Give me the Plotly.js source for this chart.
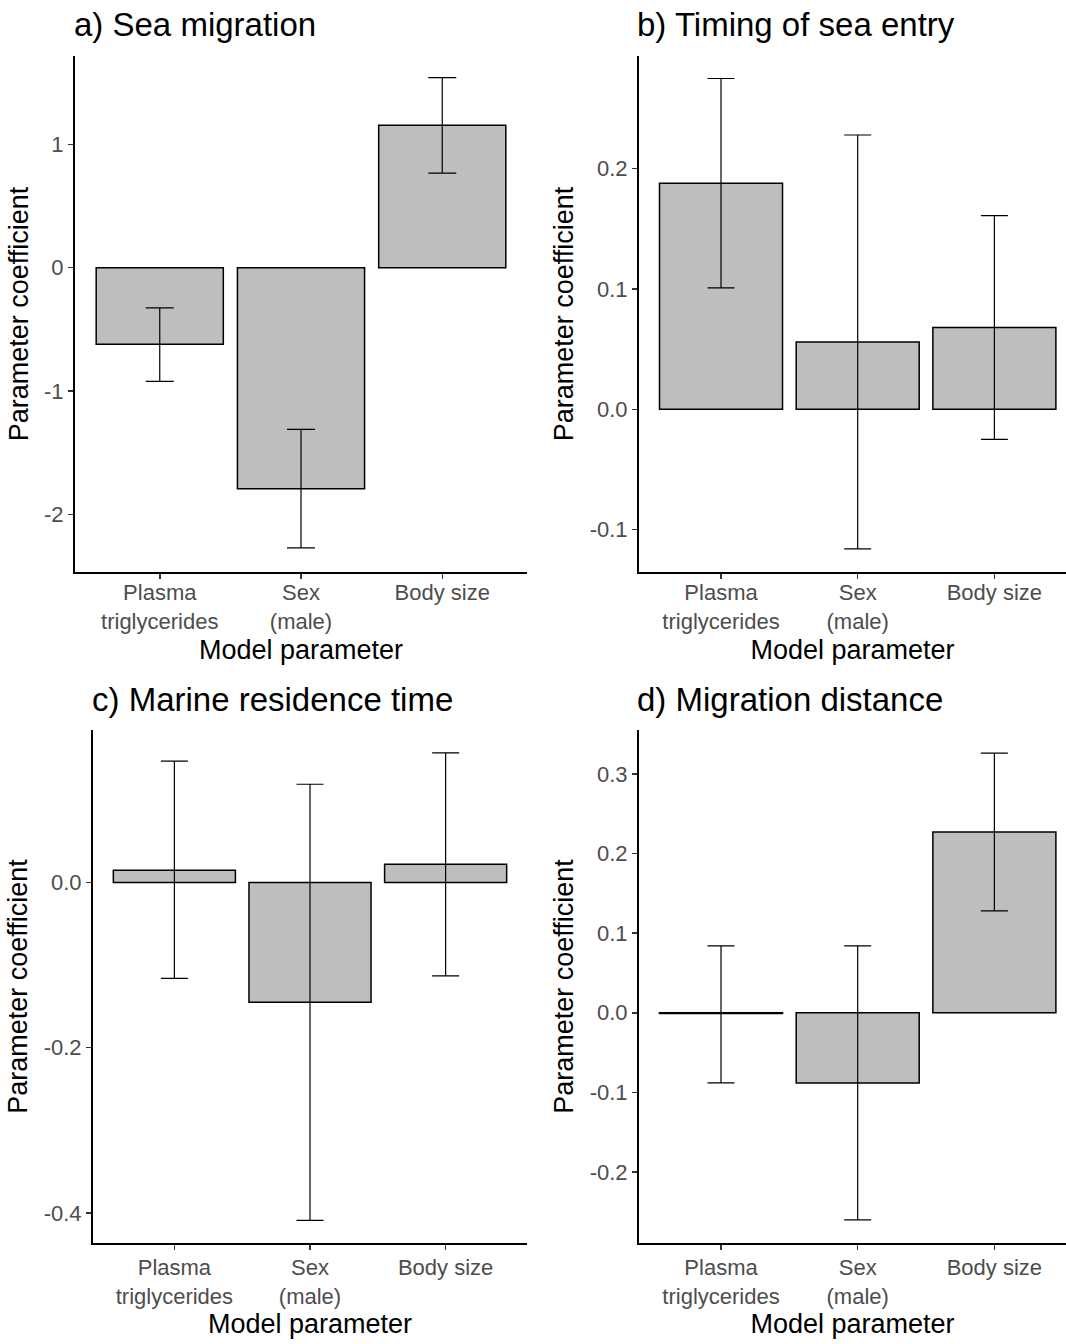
<!DOCTYPE html>
<html><head><meta charset="utf-8">
<script src="https://cdn.plot.ly/plotly-3.0.1.min.js"></script>
<style>body{margin:0;background:#fff}#chart{width:1066px;height:1344px}</style>
</head><body><div id="chart"></div>
<script>
// ---- data ----
const categories = ["Plasma<br>triglycerides", "Sex<br>(male)", "Body size"];

const seaMigration     = [-0.62, -1.79, 1.155];
const seaMigrationLow  = [-0.92, -2.27, 0.766];
const seaMigrationHigh = [-0.325, -1.31, 1.54];

const seaEntryTiming     = [0.188, 0.056, 0.068];
const seaEntryTimingLow  = [0.101, -0.116, -0.025];
const seaEntryTimingHigh = [0.275, 0.228, 0.161];

const marineResidence     = [0.015, -0.145, 0.022];
const marineResidenceLow  = [-0.116, -0.409, -0.113];
const marineResidenceHigh = [0.147, 0.119, 0.157];

const migrationDistance     = [-0.001, -0.088, 0.227];
const migrationDistanceLow  = [-0.088, -0.260, 0.128];
const migrationDistanceHigh = [0.084, 0.084, 0.326];

const panelTitles = ["a) Sea migration", "b) Timing of sea entry", "c) Marine residence time", "d) Migration distance"];
const xTitle = "Model parameter";
const yTitle = "Parameter coefficient";

const yTicksA = [-2, -1, 0, 1];          const yLabelsA = ["-2", "-1", "0", "1"];
const yTicksB = [-0.1, 0, 0.1, 0.2];     const yLabelsB = ["-0.1", "0.0", "0.1", "0.2"];
const yTicksC = [-0.4, -0.2, 0];         const yLabelsC = ["-0.4", "-0.2", "0.0"];
const yTicksD = [-0.2, -0.1, 0, 0.1, 0.2, 0.3]; const yLabelsD = ["-0.2", "-0.1", "0.0", "0.1", "0.2", "0.3"];

// ---- build ----
const W = 1066, H = 1344;
const FONT = "Liberation Sans, Arial, sans-serif";

function barTrace(vals, lo, hi, xa, ya, capHalf) {
  return {
    type: "bar", x: categories, y: vals, xaxis: xa, yaxis: ya, width: 0.9,
    marker: {color: "#bebebe", line: {color: "#000", width: 1.5}},
    error_y: {type: "data", symmetric: false,
      array: hi.map((h, i) => h - vals[i]),
      arrayminus: lo.map((l, i) => vals[i] - l),
      color: "#000", thickness: 1.2, width: capHalf},
    hoverinfo: "y", showlegend: false
  };
}

const data = [
  barTrace(seaMigration, seaMigrationLow, seaMigrationHigh, "x", "y", 14),
  barTrace(seaEntryTiming, seaEntryTimingLow, seaEntryTimingHigh, "x2", "y2", 13.5),
  barTrace(marineResidence, marineResidenceLow, marineResidenceHigh, "x3", "y3", 13.5),
  barTrace(migrationDistance, migrationDistanceLow, migrationDistanceHigh, "x4", "y4", 13.5)
];

function xAxis(domain, yref, range, labelShift, titleStandoff) {
  return {
    domain: domain, anchor: yref, range: range, type: "category",
    categoryorder: "array", categoryarray: categories,
    showline: true, linecolor: "#000", linewidth: 2, mirror: false,
    ticks: "outside", ticklen: 5, tickwidth: 1.5, tickcolor: "#333",
    ticklabelstandoff: labelShift,
    tickfont: {family: FONT, size: 22, color: "#4d4d4d"},
    showgrid: false, zeroline: false, fixedrange: true,
    title: {text: xTitle, font: {family: FONT, size: 27, color: "#000"}, standoff: titleStandoff}
  };
}
function yAxis(domain, xref, range, tv, tt) {
  return {
    domain: domain, anchor: xref, range: range,
    tickvals: tv, ticktext: tt,
    showline: true, linecolor: "#000", linewidth: 2,
    ticks: "outside", ticklen: 5, tickwidth: 1.5, tickcolor: "#333",
    tickfont: {family: FONT, size: 22, color: "#4d4d4d"},
    showgrid: false, zeroline: false, fixedrange: true,
    title: {text: yTitle, font: {family: FONT, size: 27, color: "#000"}, standoff: 8}
  };
}

const px = v => v / W, py = v => 1 - v / H;

const layout = {
  width: W, height: H,
  margin: {l: 0, r: 0, t: 0, b: 0},
  paper_bgcolor: "#fff", plot_bgcolor: "#fff",
  font: {family: FONT},
  showlegend: false,
  xaxis:  xAxis([px(75), px(527)], "y", [-0.6, 2.6], -5, 7),
  yaxis:  yAxis([py(572), py(56)], "x", [-2.465, 1.715], yTicksA, yLabelsA),
  xaxis2: xAxis([px(639), 1], "y2", [-0.6, 2.524], -5, 7),
  yaxis2: yAxis([py(572), py(56)], "x2", [-0.1353, 0.2937], yTicksB, yLabelsB),
  xaxis3: xAxis([px(93), px(527)], "y3", [-0.6, 2.6], -1, 6),
  yaxis3: yAxis([py(1243), py(730)], "x3", [-0.4365, 0.1847], yTicksC, yLabelsC),
  xaxis4: xAxis([px(639), 1], "y4", [-0.6, 2.524], -1, 6),
  yaxis4: yAxis([py(1243), py(730)], "x4", [-0.289, 0.355], yTicksD, yLabelsD),
  annotations: [
    {text: panelTitles[0], x: px(72),  y: py(24),  xanchor: "left", yanchor: "middle"},
    {text: panelTitles[1], x: px(635), y: py(24),  xanchor: "left", yanchor: "middle"},
    {text: panelTitles[2], x: px(90),  y: py(699), xanchor: "left", yanchor: "middle"},
    {text: panelTitles[3], x: px(635), y: py(699), xanchor: "left", yanchor: "middle"}
  ].map(a => Object.assign(a, {xref: "paper", yref: "paper", showarrow: false,
        font: {family: FONT, size: 33, color: "#000"}}))
};

Plotly.newPlot("chart", data, layout, {displayModeBar: false, staticPlot: true});
</script>
</body></html>
